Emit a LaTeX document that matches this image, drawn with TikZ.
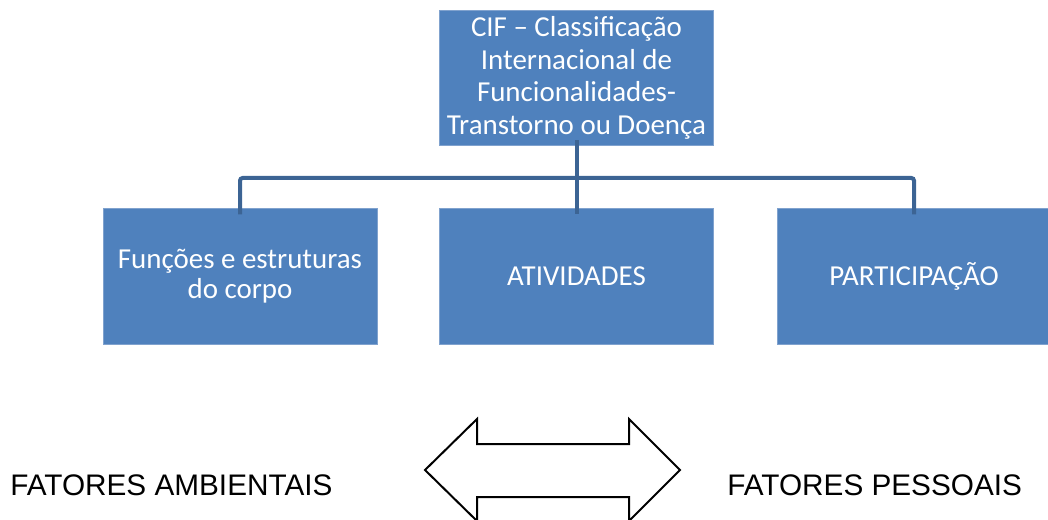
\documentclass[tikz,border=0pt]{standalone}
\usepackage{fontspec}
\setmainfont{Liberation Sans}
\newfontfamily\boxfont{Carlito}

\definecolor{boxblue}{RGB}{79,129,189}
\definecolor{boxedge}{RGB}{128,162,206}
\definecolor{linkblue}{RGB}{60,100,148}

\begin{document}
\begin{tikzpicture}[x=0.75pt,y=0.75pt,yscale=-1,xscale=1,
    blockbox/.style={draw=boxedge, fill=boxblue, text=white, line width=0.75pt,
        minimum width=205.5pt, minimum height=101.5pt, align=center, inner sep=0.5pt,
        font=\boxfont\fontsize{21.7}{24.5}\selectfont},
    link/.style={draw=linkblue, line width=3pt, rounded corners=2pt},
    factor/.style={anchor=west, inner sep=0pt, font=\fontsize{22.3}{27}\selectfont}]
        \useasboundingbox (0,0) rectangle (1048,520);

        % Top box
        \node [blockbox] (cif) at (576.5,78) {CIF – Classificação\\Internacional de\\Funcionalidades-\\Transtorno ou Doença};
        % Lower boxes
        \node [blockbox, font=\boxfont\fontsize{21.7}{22.5}\selectfont] (func) at (240,276.5) {Funções e estruturas\\do corpo};
        \node [blockbox] (ativ) at (576.5,276.5) {ATIVIDADES};
        \node [blockbox] (part) at (914,276.5) {PARTICIPAÇÃO};

        % Links
        \coordinate (bar) at (576.5,178);
        \draw [link] ([yshift=-4.5pt]cif.south) -- ([yshift=4.5pt]ativ.north);
        \draw [link] ([yshift=4.5pt]func.north) |- (bar) -| ([yshift=4.5pt]part.north);

        % Double arrow
        \draw [line width=1.5pt, line join=miter] (425,470) -- (477,419) -- (477,444) -- (629,444) -- (629,419) -- (680,470) -- (629,521) -- (629,497) -- (477,497) -- (477,521) -- cycle;

        % Text Node
        \node [factor] (amb) at (10,485) {FATORES AMBIENTAIS};
        % Text Node
        \node [factor] (pes) at (727,485) {FATORES PESSOAIS};
\end{tikzpicture}
\end{document}
